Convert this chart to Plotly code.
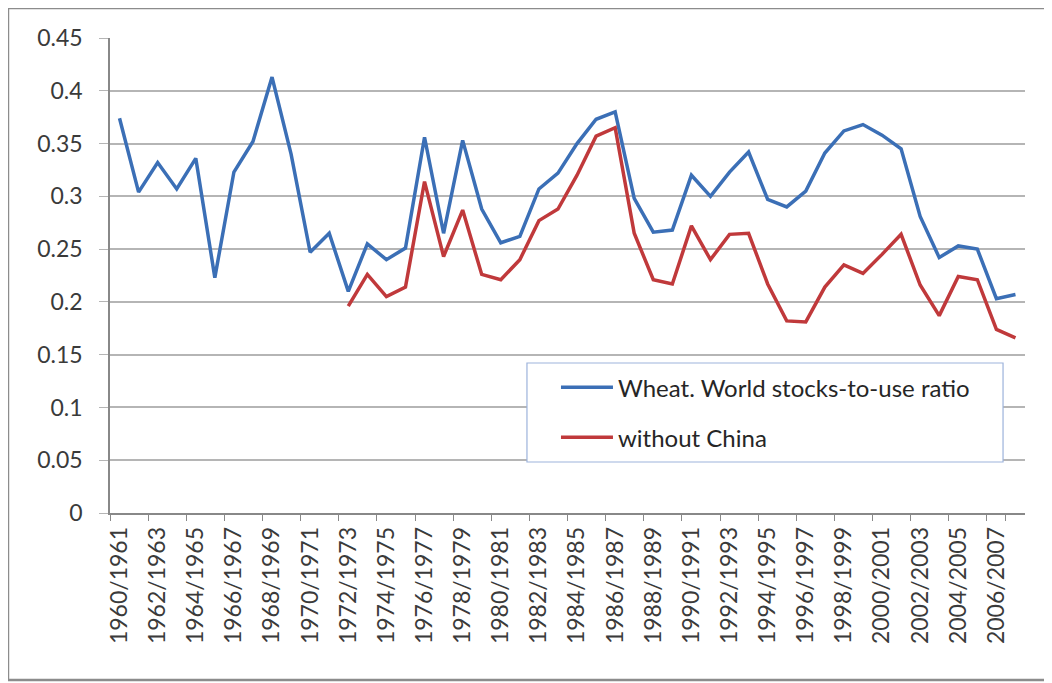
import plotly.graph_objects as go

years = list(range(1960, 2008))
categories = [f"{y}/{y+1}" for y in years]

world = [0.374, 0.304, 0.332, 0.307, 0.336, 0.223, 0.323, 0.352, 0.413, 0.340,
         0.247, 0.265, 0.210, 0.255, 0.240, 0.251, 0.356, 0.265, 0.353, 0.288,
         0.256, 0.262, 0.307, 0.322, 0.350, 0.373, 0.380, 0.298, 0.266, 0.268,
         0.320, 0.300, 0.323, 0.342, 0.297, 0.290, 0.305, 0.341, 0.362, 0.368,
         0.358, 0.345, 0.281, 0.242, 0.253, 0.250, 0.203, 0.207]

no_china = [None] * 12 + [
    0.196, 0.226, 0.205, 0.214, 0.314, 0.243, 0.287, 0.226,
    0.221, 0.240, 0.277, 0.288, 0.320, 0.357, 0.365, 0.265, 0.221, 0.217,
    0.272, 0.240, 0.264, 0.265, 0.217, 0.182, 0.181, 0.214, 0.235, 0.227,
    0.245, 0.264, 0.216, 0.187, 0.224, 0.221, 0.174, 0.166]

y_ticks = [0, 0.05, 0.1, 0.15, 0.2, 0.25, 0.3, 0.35, 0.4, 0.45]
y_labels = ["0", "0.05", "0.1", "0.15", "0.2", "0.25", "0.3", "0.35", "0.4", "0.45"]

FONT = "Lato, 'Open Sans', sans-serif"
TXT = "#3A3A3A"

fig = go.Figure()
fig.add_trace(go.Scatter(x=categories, y=world, mode="lines",
                         name="Wheat. World stocks-to-use ratio",
                         line=dict(color="#3B6FB6", width=3.5),
                         legendgroup="a"))
fig.add_trace(go.Scatter(x=categories, y=no_china, mode="lines",
                         name="without China",
                         line=dict(color="#C0393B", width=3.5),
                         legendgroup="b"))

fig.update_layout(
    width=1044, height=675,
    margin=dict(l=102, r=27, t=30, b=170),
    paper_bgcolor="white", plot_bgcolor="white",
    font=dict(family=FONT, size=23, color=TXT),
    showlegend=True,
    legend=dict(x=0.4874, y=0.3115, xanchor="left", yanchor="top",
                borderwidth=0, bgcolor="rgba(0,0,0,0)",
                font=dict(family=FONT, size=24, color="#262626"),
                tracegroupgap=16, itemwidth=52),
    xaxis=dict(type="category", categoryorder="array", categoryarray=categories,
               tickmode="array", tickvals=categories[::2], ticktext=categories[::2],
               tickangle=-90, tickson="boundaries", ticks="outside", ticklen=6,
               tickcolor="#888888", showline=True, linecolor="#888888", linewidth=1.5,
               showgrid=False, range=[-0.5, len(categories) - 0.5],
               ticklabelstandoff=3,
               tickfont=dict(family=FONT, size=23, color=TXT)),
    yaxis=dict(range=[0, 0.45], tickmode="array", tickvals=y_ticks, ticktext=y_labels,
               showgrid=True, gridcolor="#B5B5B5", gridwidth=1.5,
               showline=True, linecolor="#888888", linewidth=1.5,
               ticks="outside", ticklen=9, tickcolor="#B5B5B5",
               ticklabelstandoff=12,
               zeroline=False, tickfont=dict(family=FONT, size=23, color=TXT)),
    shapes=[
        dict(type="rect", xref="paper", yref="paper",
             x0=-0.1115, x1=1.0284, y0=-0.3516, y1=1.063,
             line=dict(color="#8C8C8C", width=2.5), layer="below"),
        dict(type="rect", xref="paper", yref="paper",
             x0=0.4557, x1=0.976, y0=0.1074, y1=0.3158,
             line=dict(color="#9DB3DB", width=1.2), fillcolor="white", layer="above"),
    ],
)

fig.write_html("out.html")
